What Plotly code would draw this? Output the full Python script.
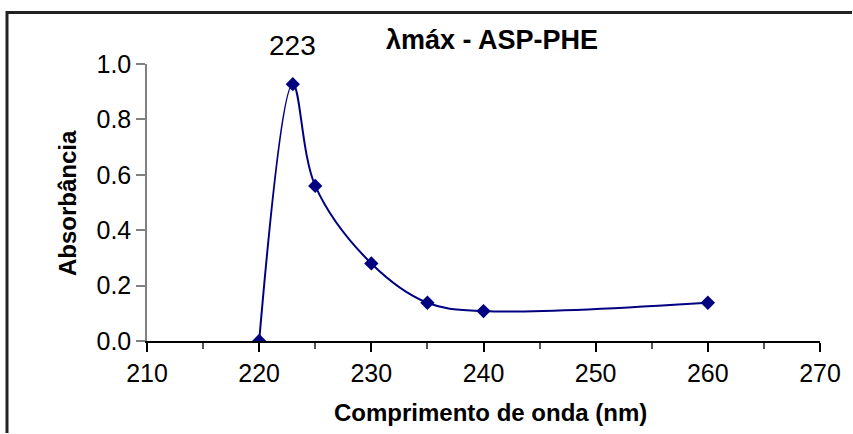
import plotly.graph_objects as go

wavelength = [220, 223, 225, 230, 235, 240, 260]
absorbance = [0.0, 0.927, 0.56, 0.28, 0.138, 0.108, 0.138]
x_ticks = [210, 220, 230, 240, 250, 260, 270]
y_ticks = [0.0, 0.2, 0.4, 0.6, 0.8, 1.0]
peak_label = "223"
title_text = "λmáx - ASP-PHE"
x_title = "Comprimento de onda (nm)"
y_title = "Absorbância"

W, H = 853, 434
L, R, T, B = 147, 33, 64, 93
pw, ph = W - L - R, H - T - B

FONT = "Arial, Liberation Sans, sans-serif"
NAVY = "#000080"

fig = go.Figure()
fig.add_trace(go.Scatter(
    x=wavelength, y=absorbance, mode="lines+markers",
    line=dict(color=NAVY, width=2, shape="spline", smoothing=1),
    marker=dict(symbol="diamond", size=11, color=NAVY),
    showlegend=False, hoverinfo="x+y",
))

def px_x(px):
    return (px - L) / pw

def px_y(py):
    return (H - B - py) / ph

border = dict(color="#222222", width=3)

fig.update_layout(
    width=W, height=H,
    margin=dict(l=L, r=R, t=T, b=B, pad=0),
    paper_bgcolor="white", plot_bgcolor="white",
    font=dict(family=FONT, color="black", size=25),
    xaxis=dict(
        range=[210, 270], tickvals=x_ticks, ticktext=[str(v) for v in x_ticks],
        showgrid=False, zeroline=False, showline=True, linecolor="black", linewidth=1.5,
        ticks="outside", ticklen=9, tickwidth=1.5, tickcolor="black",
        minor=dict(dtick=5, tick0=210, ticks="outside", ticklen=6, tickwidth=1.5, tickcolor="#555", showgrid=False),
        tickfont=dict(size=25, family=FONT),
    ),
    yaxis=dict(
        range=[0, 1.0], tickvals=y_ticks, ticktext=[f"{v:.1f}" for v in y_ticks],
        showgrid=False, zeroline=False, showline=True, linecolor="#808080", linewidth=1.5,
        ticks="outside", ticklen=9, tickwidth=1.5, tickcolor="#808080",
        tickfont=dict(size=25, family=FONT),
    ),
    shapes=[
        dict(type="line", xref="paper", yref="paper",
             x0=px_x(6), x1=px_x(W - 1), y0=px_y(12.5), y1=px_y(12.5),
             line=border),
        dict(type="line", xref="paper", yref="paper",
             x0=px_x(7), x1=px_x(7), y0=px_y(H - 1), y1=px_y(11),
             line=border),
    ],
    annotations=[
        dict(text=f"<b>{title_text}</b>", xref="paper", yref="paper",
             x=px_x(492), y=px_y(40), xanchor="center", yanchor="middle",
             showarrow=False, font=dict(size=27, family=FONT)),
        dict(text=peak_label, xref="x", yref="paper",
             x=223, y=px_y(46), xanchor="center", yanchor="middle",
             showarrow=False, font=dict(size=28, family=FONT)),
        dict(text=f"<b>{x_title}</b>", xref="paper", yref="paper",
             x=px_x(490), y=px_y(412), xanchor="center", yanchor="middle",
             showarrow=False, font=dict(size=24, family=FONT)),
        dict(text=f"<b>{y_title}</b>", xref="paper", yref="paper",
             x=px_x(67), y=px_y(203), xanchor="center", yanchor="middle",
             textangle=-90, showarrow=False, font=dict(size=24, family=FONT)),
    ],
)

fig.write_html("out.html", config={"displayModeBar": False},
               post_script="document.body.style.margin='0';document.body.style.padding='0';window.scrollTo(0,0);")
